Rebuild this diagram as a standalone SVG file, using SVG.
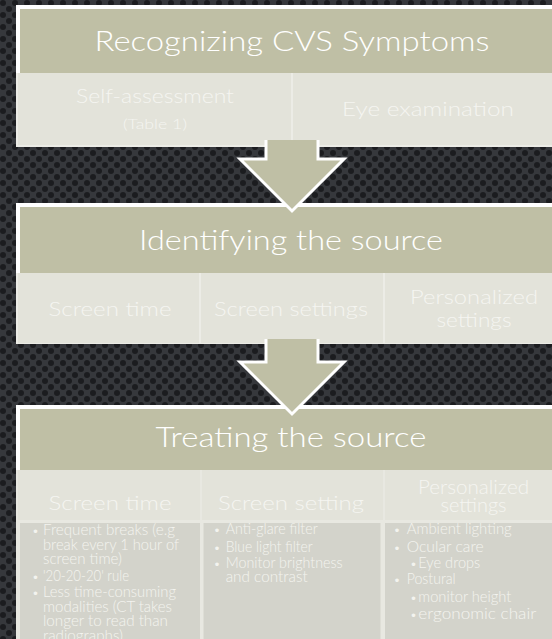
<svg xmlns="http://www.w3.org/2000/svg" width="552" height="639" viewBox="0 0 552 639">
<defs>
<pattern id="holes" x="0" y="0" width="12" height="12" patternUnits="userSpaceOnUse">
<rect width="12" height="12" fill="#36383c"/>
<circle cx="3" cy="3" r="3" fill="#1b1c1f"/>
<circle cx="9" cy="9" r="3" fill="#1b1c1f"/>
</pattern>
<style>
.t{font-family:"Lato","Open Sans","DejaVu Sans",sans-serif;font-weight:300;}
.title{font-size:28px;fill:#ffffff;text-anchor:middle;}
.cell{font-size:20px;fill:#f5f5f1;text-anchor:middle;}
.small{font-size:14px;fill:#f5f5f1;text-anchor:middle;}
.li{font-size:15px;fill:#f3f3ef;}
.bu{font-size:12px;fill:#f3f3ef;text-anchor:middle;}
.olive{fill:#bfbfa5;}
.row{fill:#e3e3da;}
.body{fill:#d3d3cb;}
.frame{fill:#ffffff;}
.arrow{fill:#bfbfa5;stroke:#ffffff;stroke-width:3;stroke-linejoin:miter;}
</style>
</defs>
<rect width="552" height="639" fill="url(#holes)"/>

<g id="box1">
<rect x="16" y="5" width="600" height="142" fill="#ececE6"/>
<rect class="frame" x="16" y="5" width="600" height="68"/>
<rect class="olive" x="20" y="9" width="600" height="64"/>
<text class="t title" x="292" y="51" textLength="395" lengthAdjust="spacingAndGlyphs">Recognizing CVS Symptoms</text>
<g id="box1-cell1">
<rect class="row" x="18" y="73" width="273" height="72"/>
<text class="t cell" x="155" y="103" textLength="158" lengthAdjust="spacingAndGlyphs">Self-assessment</text>
<text class="t small" x="155" y="129" textLength="64" lengthAdjust="spacingAndGlyphs">(Table 1)</text>
</g>
<g id="box1-cell2">
<rect class="row" x="293" y="73" width="300" height="72"/>
<text class="t cell" x="428" y="116" textLength="172" lengthAdjust="spacingAndGlyphs">Eye examination</text>
</g>
</g>

<g id="box2">
<rect x="16" y="203" width="600" height="141" fill="#ececE6"/>
<rect class="frame" x="16" y="203" width="600" height="70"/>
<rect class="olive" x="20" y="207" width="600" height="66"/>
<text class="t title" x="291" y="250" textLength="304" lengthAdjust="spacingAndGlyphs">Identifying the source</text>
<g id="box2-cell1">
<rect class="row" x="18" y="273" width="181" height="70"/>
<text class="t cell" x="110" y="316" font-size="21" textLength="123" lengthAdjust="spacingAndGlyphs">Screen time</text>
</g>
<g id="box2-cell2">
<rect class="row" x="201" y="273" width="182" height="70"/>
<text class="t cell" x="291" y="316" textLength="154" lengthAdjust="spacingAndGlyphs">Screen settings</text>
</g>
<g id="box2-cell3">
<rect class="row" x="385" y="273" width="220" height="70"/>
<text class="t cell" x="474" y="304" textLength="128" lengthAdjust="spacingAndGlyphs">Personalized</text>
<text class="t cell" x="474" y="327" textLength="75" lengthAdjust="spacingAndGlyphs">settings</text>
</g>
</g>

<g id="box3">
<rect x="16" y="405" width="600" height="240" fill="#e8e8e1"/>
<rect class="frame" x="16" y="405" width="600" height="65"/>
<rect class="olive" x="20" y="409" width="600" height="61"/>
<text class="t title" x="291" y="447" textLength="271" lengthAdjust="spacingAndGlyphs">Treating the source</text>
<g id="box3-col1">
<rect class="row" x="18" y="470" width="182" height="50"/>
<text class="t cell" x="110" y="510" textLength="123" lengthAdjust="spacingAndGlyphs">Screen time</text>
<rect class="body" x="20" y="523" width="180" height="120"/>
<text class="t bu" x="35.5" y="535">•</text>
<text class="t li" x="43" y="535" textLength="132" lengthAdjust="spacingAndGlyphs">Frequent breaks (e.g</text>
<text class="t li" x="43" y="549.5" textLength="136" lengthAdjust="spacingAndGlyphs">break every 1 hour of</text>
<text class="t li" x="43" y="564" textLength="79" lengthAdjust="spacingAndGlyphs">screen time)</text>
<text class="t bu" x="35.5" y="580.5">•</text>
<text class="t li" x="43" y="580.5" textLength="86" lengthAdjust="spacingAndGlyphs">'20-20-20' rule</text>
<text class="t bu" x="35.5" y="597">•</text>
<text class="t li" x="43" y="597" textLength="133" lengthAdjust="spacingAndGlyphs">Less time-consuming</text>
<text class="t li" x="43" y="611.5" textLength="129" lengthAdjust="spacingAndGlyphs">modalities (CT takes</text>
<text class="t li" x="43" y="626" textLength="125" lengthAdjust="spacingAndGlyphs">longer to read than</text>
<text class="t li" x="43" y="641" textLength="80" lengthAdjust="spacingAndGlyphs">radiographs)</text>
</g>
<g id="box3-col2">
<rect class="row" x="202" y="470" width="181" height="50"/>
<text class="t cell" x="291" y="510" textLength="146" lengthAdjust="spacingAndGlyphs">Screen setting</text>
<rect class="body" x="203.5" y="523" width="177" height="120"/>
<text class="t bu" x="217" y="534">•</text>
<text class="t li" x="225.7" y="534" textLength="92" lengthAdjust="spacingAndGlyphs">Anti-glare filter</text>
<text class="t bu" x="217" y="551.5">•</text>
<text class="t li" x="225.7" y="551.5" textLength="87" lengthAdjust="spacingAndGlyphs">Blue light filter</text>
<text class="t bu" x="217" y="568">•</text>
<text class="t li" x="225.7" y="568" textLength="117" lengthAdjust="spacingAndGlyphs">Monitor brightness</text>
<text class="t li" x="225.7" y="582" textLength="82" lengthAdjust="spacingAndGlyphs">and contrast</text>
</g>
<g id="box3-col3">
<rect class="row" x="385" y="470" width="220" height="50"/>
<text class="t cell" x="473.5" y="494" font-size="18" textLength="111" lengthAdjust="spacingAndGlyphs">Personalized</text>
<text class="t cell" x="473.5" y="511.5" font-size="18" textLength="66" lengthAdjust="spacingAndGlyphs">settings</text>
<rect class="body" x="385" y="523" width="220" height="120"/>
<text class="t bu" x="397" y="534">•</text>
<text class="t li" x="406.7" y="534" textLength="105" lengthAdjust="spacingAndGlyphs">Ambient lighting</text>
<text class="t bu" x="397" y="551.5">•</text>
<text class="t li" x="406.7" y="551.5" textLength="77" lengthAdjust="spacingAndGlyphs">Ocular care</text>
<text class="t bu" x="413.5" y="568">•</text>
<text class="t li" x="418.3" y="568" textLength="62" lengthAdjust="spacingAndGlyphs">Eye drops</text>
<text class="t bu" x="397" y="584">•</text>
<text class="t li" x="406.7" y="584" textLength="49" lengthAdjust="spacingAndGlyphs">Postural</text>
<text class="t bu" x="413.5" y="601.5">•</text>
<text class="t li" x="418.3" y="601.5" textLength="93" lengthAdjust="spacingAndGlyphs">monitor height</text>
<text class="t bu" x="413.5" y="619">•</text>
<text class="t li" x="418.3" y="619" textLength="118" lengthAdjust="spacingAndGlyphs">ergonomic chair</text>
</g>
</g>

<g id="connectors">
<path class="arrow" d="M266,140 L266,159 L240,159 L292,211 L344,159 L318,159 L318,140"/>
<path class="arrow" d="M266,339 L266,362 L240,362 L292,414 L344,362 L318,362 L318,339"/>
</g>
</svg>
